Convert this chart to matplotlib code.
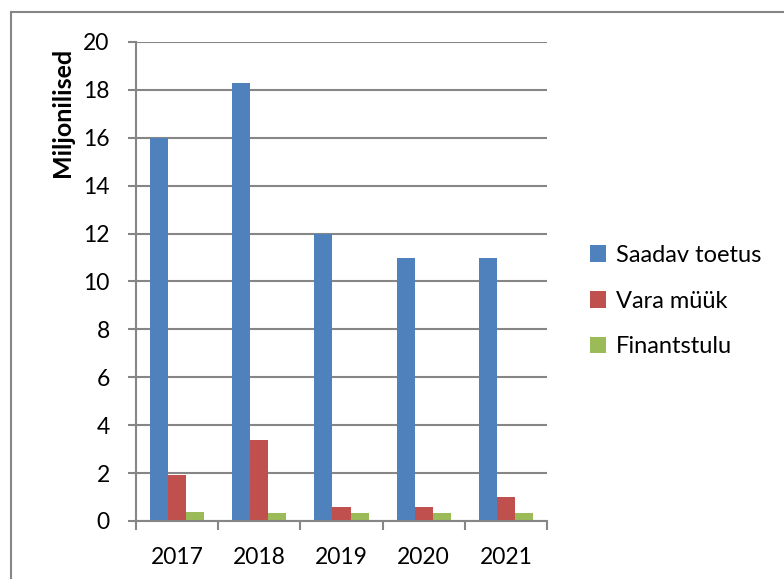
import matplotlib.pyplot as plt
import numpy as np
from matplotlib.lines import Line2D

years = ['2017', '2018', '2019', '2020', '2021']
saadav_toetus = [16.0, 18.3, 12.0, 11.0, 11.0]
vara_myyk = [1.9, 3.4, 0.6, 0.6, 1.0]
finantstulu = [0.38, 0.32, 0.32, 0.32, 0.32]

series = [('Saadav toetus', saadav_toetus, '#4F81BD'),
          ('Vara müük', vara_myyk, '#C0504D'),
          ('Finantstulu', finantstulu, '#9BBB59')]

plt.rcParams['font.family'] = ['Lato', 'DejaVu Sans']
grey = '#868686'

fig = plt.figure(figsize=(7.84, 5.79), dpi=100)
ax = fig.add_axes([0.1735, 0.1002, 0.5242, 0.8273])

x = np.arange(len(years))
width = 0.22
for i, (name, vals, col) in enumerate(series):
    ax.bar(x + (i - 1) * width, vals, width, color=col, label=name, zorder=3)

ax.set_ylim(0, 20)
ax.set_xlim(-0.5, len(years) - 0.5)
ax.set_yticks(np.arange(0, 21, 2))
ax.yaxis.grid(True, color=grey, linewidth=1.5, zorder=0)
ax.set_xticks(x)
ax.set_xticklabels(years)
ax.set_xticks(np.arange(-0.5, len(years), 1), minor=True)
ax.tick_params(axis='x', which='major', length=0, pad=19, labelsize=16.5)
ax.tick_params(axis='x', which='minor', length=6.5, width=1.5, color=grey)
ax.tick_params(axis='y', length=6, width=1.5, color=grey, labelsize=16.5, pad=13)

for s in ['top', 'right']:
    ax.spines[s].set_visible(False)
for s in ['left', 'bottom']:
    ax.spines[s].set_color(grey)
    ax.spines[s].set_linewidth(1.5)
    ax.spines[s].set_zorder(4)

ax.set_ylabel('Miljonilised', fontsize=18, fontweight='bold')
ax.yaxis.set_label_coords(-0.152, 0.852)

fig.legend(loc='center left', bbox_to_anchor=(0.725, 0.48), frameon=False,
           fontsize=17, handlelength=0.7, handleheight=0.7, handletextpad=0.4,
           labelspacing=1.05)

# outer chart frame
fig.add_artist(Line2D([11 / 784, 1], [1 - 12 / 579, 1 - 12 / 579],
                      transform=fig.transFigure, color=grey, linewidth=1.5))
fig.add_artist(Line2D([11 / 784, 11 / 784], [0, 1 - 12 / 579],
                      transform=fig.transFigure, color=grey, linewidth=1.5))

fig.savefig('out.png', dpi=100)
